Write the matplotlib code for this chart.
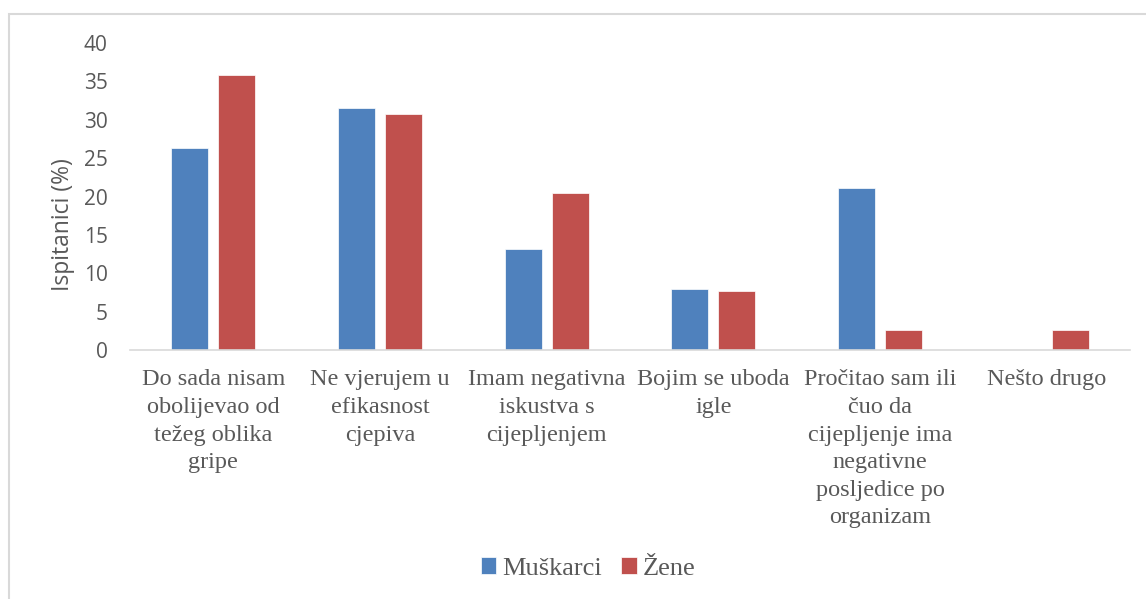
import numpy as np
import matplotlib
matplotlib.use("Agg")
import matplotlib.pyplot as plt
from matplotlib.patches import Rectangle

categories = [
    "Do sada nisam\nobolijevao od\ntežeg oblika\ngripe",
    "Ne vjerujem u\nefikasnost\ncjepiva",
    "Imam negativna\niskustva s\ncijepljenjem",
    "Bojim se uboda\nigle",
    "Pročitao sam ili\nčuo da\ncijepljenje ima\nnegativne\nposljedice po\norganizam",
    "Nešto drugo",
]
muskarci = [26.3, 31.6, 13.2, 7.9, 21.1, 0.0]
zene = [35.9, 30.8, 20.5, 7.7, 2.6, 2.6]
series_names = ["Muškarci", "Žene"]
y_ticks = [0, 5, 10, 15, 20, 25, 30, 35, 40]

BLUE = "#4F81BD"
RED = "#C0504D"
TEXT = "#595959"
LINE = "#D9D9D9"

fig = plt.figure(figsize=(11.46, 5.99), dpi=100)
ax = fig.add_axes([0.1134, 0.4157, 0.8726, 0.5123])

x = np.arange(len(categories))
w = 0.222
ax.bar(x - 0.141, muskarci, w, color=BLUE, edgecolor="white", linewidth=0.5, label=series_names[0])
ax.bar(x + 0.141, zene, w, color=RED, edgecolor="white", linewidth=0.5, label=series_names[1])

ax.set_xlim(-0.5, len(categories) - 0.5)
ax.set_ylim(0, 40)
ax.set_yticks(y_ticks)
ax.set_yticklabels([str(t) for t in y_ticks], fontfamily="Open Sans", fontsize=15, color=TEXT)
ax.set_xticks(x)
ax.set_xticklabels(categories, fontfamily="Liberation Serif", fontsize=17.5, color=TEXT,
                   linespacing=1.41, va="top")
ax.tick_params(axis="both", length=0)
ax.tick_params(axis="y", pad=16)
ax.tick_params(axis="x", pad=14)

for s in ["top", "right", "left"]:
    ax.spines[s].set_visible(False)
ax.spines["bottom"].set_color(LINE)
ax.spines["bottom"].set_linewidth(1.2)

ax.set_ylabel("Ispitanici (%)", fontfamily="Open Sans", fontsize=16.5, color=TEXT)
ax.yaxis.set_label_coords(-0.055, 0.41)

leg = fig.legend(loc="center", bbox_to_anchor=(0.513, 0.051), ncol=2, frameon=False,
                 prop={"family": "Liberation Serif", "size": 19},
                 handlelength=0.6, handleheight=0.6, handletextpad=0.2, columnspacing=0.75)
for t in leg.get_texts():
    t.set_color(TEXT)

# outer chart frame (left and top visible)
fig.add_artist(Rectangle((9 / 1146, -0.01), 1.1, 1 - 14 / 599 + 0.01, transform=fig.transFigure,
                         fill=False, edgecolor=LINE, linewidth=1.5))

fig.savefig("out.png", dpi=100)
